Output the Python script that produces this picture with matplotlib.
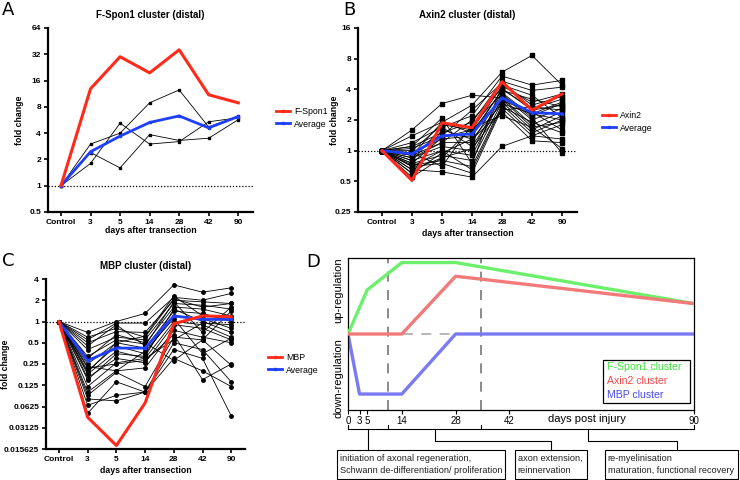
import numpy as np
import matplotlib
matplotlib.use("Agg")
import matplotlib.pyplot as plt
from matplotlib.patches import Rectangle
from matplotlib.lines import Line2D

plt.rcParams['font.family'] = ['Liberation Sans', 'DejaVu Sans']

W, H = 740, 480

# ---- data -------------------------------------------------------------
days = ['Control', '3', '5', '14', '28', '42', '90']

# panel A: F-Spon1 cluster
fspon1 = [1, 12.9, 30, 19.6, 36, 11, 8.9]
fspon1_avg = [1, 2.45, 3.7, 5.3, 6.3, 4.6, 6.2]
fspon1_genes = [
    [1, 1.8, 5.2, 3.0, 3.2, 5.4, 6.0],
    [1, 3.0, 4.0, 8.9, 12.5, 4.7, 6.3],
    [1, 2.4, 1.6, 3.85, 3.3, 3.5, 5.7],
]

# panel B: Axin2 cluster
axin2 = [1, 0.51, 1.88, 1.68, 4.75, 2.5, 3.6]
axin2_avg = [1, 0.93, 1.4, 1.46, 3.3, 2.36, 2.3]
axin2_genes = [
    [1, 1.6, 2.9, 3.5, 3.3, 2.3, 2.0],
    [1, 1.4, 1.9, 2.8, 5.9, 8.6, 4.4],
    [1, 1.2, 1.7, 2.2, 5.4, 4.4, 4.9],
    [1, 1.1, 1.5, 1.9, 4.8, 3.9, 4.2],
    [1, 1.0, 1.8, 1.6, 4.3, 3.0, 3.6],
    [1, 0.95, 1.3, 1.4, 4.0, 2.6, 3.2],
    [1, 0.9, 1.2, 1.2, 3.7, 2.2, 2.9],
    [1, 0.85, 1.1, 1.0, 3.5, 2.0, 2.6],
    [1, 0.8, 1.0, 0.9, 3.3, 1.8, 2.4],
    [1, 0.75, 0.9, 0.8, 3.0, 1.6, 2.2],
    [1, 0.72, 0.8, 0.7, 2.8, 1.5, 2.0],
    [1, 0.7, 0.75, 0.6, 2.6, 1.4, 1.8],
    [1, 0.65, 0.62, 0.55, 1.1, 1.4, 1.3],
    [1, 0.6, 1.6, 1.3, 2.4, 1.25, 1.2],
    [1, 0.55, 0.85, 1.7, 2.2, 1.7, 1.05],
    [1, 0.9, 1.9, 1.5, 3.9, 3.2, 2.7],
    [1, 1.05, 1.4, 2.5, 4.6, 2.8, 3.4],
    [1, 0.8, 1.7, 1.1, 3.1, 2.4, 1.6],
    [1, 0.7, 1.0, 0.65, 2.7, 1.9, 1.5],
    [1, 0.95, 0.7, 1.8, 3.6, 2.1, 0.95],
    [1, 0.85, 1.2, 2.0, 4.1, 2.5, 2.8],
    [1, 0.6, 0.95, 1.3, 2.9, 2.3, 3.0],
    [1, 1.1, 2.1, 0.75, 4.4, 3.5, 2.1],
    [1, 0.75, 1.35, 1.6, 3.2, 1.7, 1.9],
    [1, 0.65, 0.85, 1.05, 2.5, 2.7, 2.5],
]

# panel C: MBP cluster
mbp = [1, 0.044, 0.0175, 0.07, 0.93, 1.2, 1.17]
mbp_avg = [1, 0.28, 0.42, 0.42, 1.2, 1.07, 1.07]
mbp_genes = [
    [1, 0.7, 1.0, 1.3, 3.3, 2.6, 3.0],
    [1, 0.55, 0.95, 0.95, 2.2, 2.0, 2.5],
    [1, 0.5, 0.72, 0.7, 2.0, 1.9, 1.8],
    [1, 0.4, 0.6, 0.55, 1.8, 1.7, 1.5],
    [1, 0.32, 0.55, 0.48, 1.6, 1.5, 1.2],
    [1, 0.25, 0.5, 0.42, 1.4, 1.3, 1.0],
    [1, 0.2, 0.45, 0.35, 1.2, 1.1, 0.8],
    [1, 0.18, 0.38, 0.3, 1.0, 0.9, 0.6],
    [1, 0.16, 0.3, 0.26, 0.9, 0.8, 0.55],
    [1, 0.1, 0.2, 0.22, 0.75, 0.6, 0.5],
    [1, 0.09, 0.19, 0.12, 0.6, 0.55, 0.24],
    [1, 0.065, 0.09, 0.1, 0.5, 0.4, 0.14],
    [1, 0.05, 0.14, 0.1, 0.4, 0.3, 0.046],
    [1, 0.08, 0.075, 0.1, 0.3, 0.2, 0.12],
    [1, 0.22, 0.25, 0.28, 0.65, 0.15, 0.25],
    [1, 0.6, 0.8, 0.6, 2.1, 1.6, 1.8],
    [1, 0.45, 0.9, 0.45, 1.9, 0.7, 1.6],
    [1, 0.3, 0.65, 0.5, 0.28, 0.55, 1.4],
    [1, 0.15, 0.35, 0.32, 1.5, 1.0, 0.7],
    [1, 0.19, 0.5, 0.62, 2.3, 1.2, 1.1],
    [1, 0.23, 0.2, 0.38, 1.1, 0.35, 0.58],
    [1, 0.12, 0.26, 0.3, 0.55, 0.95, 0.9],
]

# panel D: schematic
d_ticks = [0, 3, 5, 14, 28, 42, 90]
green_days = [0, 5, 14, 28, 90]
green_vals = [0.5, 0.79, 0.97, 0.97, 0.70]
red_days = [0, 14, 28, 90]
red_vals = [0.5, 0.5, 0.88, 0.70]
blue_days = [0, 3, 14, 28, 90]
blue_vals = [0.5, 0.105, 0.105, 0.5, 0.5]
phase_bounds = [10.4, 34.6]
phase_text = ['initiation of axonal regeneration,\nSchwann de-differentiation/ proliferation',
              'axon extension,\nreinnervation',
              're-myelinisation\nmaturation, functional recovery']

RED = '#ff2a1a'
BLUE = '#1f3fff'


def px_axes(fig, x0, y0, x1, y1):
    return fig.add_axes([x0 / W, 1 - y1 / H, (x1 - x0) / W, (y1 - y0) / H])


def cluster_panel(ax, genes, red, avg, yticks, yticklabels, xlim, title,
                  ylab_x, xlab_y, ms=2.5):
    x = np.arange(len(days))
    for g in genes:
        ax.plot(x, g, color='k', lw=0.6, marker='s', ms=ms, zorder=2)
    ax.plot(x, avg, color=BLUE, lw=2.0, marker='s', ms=2, zorder=3)
    ax.plot(x, red, color=RED, lw=2.2, zorder=4)
    ax.axhline(1, color='k', ls=(0, (1, 1.5)), lw=0.9, zorder=1)
    ax.set_yscale('log', base=2)
    ax.set_ylim(yticks[0], yticks[-1])
    ax.set_yticks(yticks)
    ax.set_yticklabels(yticklabels)
    ax.minorticks_off()
    ax.set_xlim(*xlim)
    ax.set_xticks(x)
    ax.set_xticklabels(days)
    for s in ['top', 'right']:
        ax.spines[s].set_visible(False)
    for s in ['left', 'bottom']:
        ax.spines[s].set_linewidth(1.6)
    ax.tick_params(width=1.2, length=3, labelsize=6, pad=2)
    for lab in ax.get_xticklabels() + ax.get_yticklabels():
        lab.set_fontweight('bold')
    ax.set_title(title, fontsize=7, fontweight='bold', pad=7)
    ax.set_xlabel('days after transection', fontsize=6.3, fontweight='bold')
    ax.set_ylabel('fold change', fontsize=6.3, fontweight='bold')
    ax.yaxis.set_label_coords(ylab_x, 0.5)
    ax.xaxis.set_label_coords(0.5, xlab_y)
    ax.patch.set_alpha(0)


def add_legend(fig, name, x, y):
    h = [Line2D([], [], color=RED, lw=2.0, marker='s', ms=1.5),
         Line2D([], [], color=BLUE, lw=2.0, marker='s', ms=1.5)]
    fig.legend(h, [name, 'Average'], loc='center left', bbox_to_anchor=(x / W, 1 - y / H),
               frameon=False, fontsize=6.3, handlelength=1.6, handletextpad=0.5,
               labelspacing=0.35, borderaxespad=0)


fig = plt.figure(figsize=(W / 100, H / 100), dpi=100)

# A
axA = px_axes(fig, 48, 28, 253, 212)
cluster_panel(axA, fspon1_genes, fspon1, fspon1_avg,
              [0.5, 1, 2, 4, 8, 16, 32, 64], ['0.5', '1', '2', '4', '8', '16', '32', '64'],
              (-0.44, 6.5), 'F-Spon1 cluster (distal)', -0.115, -0.078, ms=2)
add_legend(fig, 'F-Spon1', 272, 118)

# B
axB = px_axes(fig, 358, 28, 577, 212)
cluster_panel(axB, axin2_genes, axin2, axin2_avg,
              [0.25, 0.5, 1, 2, 4, 8, 16], ['0.25', '0.5', '1', '2', '4', '8', '16'],
              (-0.8, 6.5), 'Axin2 cluster (distal)', -0.085, -0.095)
add_legend(fig, 'Axin2', 598, 122)

# C
axC = px_axes(fig, 46, 279, 245, 449)
cluster_panel(axC, mbp_genes, mbp, mbp_avg,
              [0.015625, 0.03125, 0.0625, 0.125, 0.25, 0.5, 1, 2, 4],
              ['0.015625', '0.03125', '0.0625', '0.125', '0.25', '0.5', '1', '2', '4'],
              (-0.45, 6.48), 'MBP cluster (distal)', -0.18, -0.1)
for ln in axC.lines[:len(mbp_genes)]:
    ln.set_marker('o')
add_legend(fig, 'MBP', 264, 364)

# D
axD = px_axes(fig, 348, 258, 694, 410)
axD.set_xlim(0, 90)
axD.set_ylim(0, 1)
axD.plot([0, 90], [0.5, 0.5], color='#aaaaaa', lw=1.2, ls=(0, (6, 5)), zorder=1)
for b in phase_bounds:
    axD.axvline(b, color='#777777', lw=1.2, ls=(0, (6, 5)), zorder=1)
axD.plot(green_days, green_vals, color='#6cf06c', lw=2.4, solid_capstyle='butt', zorder=3)
axD.plot(red_days, red_vals, color='#f27a7a', lw=2.4, solid_capstyle='butt', zorder=3)
axD.plot(blue_days, blue_vals, color='#7a7af2', lw=2.4, solid_capstyle='butt', zorder=2)
axD.set_xticks(d_ticks)
axD.set_xticklabels([str(d) for d in d_ticks])
axD.set_yticks([])
axD.tick_params(axis='x', length=3, width=0.8, labelsize=7, pad=1.5)
for s in axD.spines.values():
    s.set_linewidth(0.9)
axD.text(0.69, -0.028, 'days post injury', transform=axD.transAxes, fontsize=8,
         ha='center', va='top')
axD.text(-0.028, 0.79, 'up-regulation', transform=axD.transAxes, rotation=90,
         fontsize=8, ha='center', va='center')
axD.text(-0.028, 0.21, 'down-regulation', transform=axD.transAxes, rotation=90,
         fontsize=8, ha='center', va='center')
leg_colors = ['#3ee03e', '#f04848', '#4848f0']
leg_names = ['F-Spon1 cluster', 'Axin2 cluster', 'MBP cluster']
axD.add_patch(Rectangle((0.737, 0.045), 0.252, 0.285, transform=axD.transAxes,
                        fill=False, lw=0.9, ec='k', zorder=5))
for i, (n, c) in enumerate(zip(leg_names, leg_colors)):
    axD.text(0.748, 0.28 - i * 0.09, n, color=c, fontsize=7.6, transform=axD.transAxes,
             va='center', zorder=6)

# phase brackets and boxes (pixel overlay)
ov = fig.add_axes([0, 0, 1, 1])
ov.set_xlim(0, W)
ov.set_ylim(H, 0)
ov.axis('off')


def dx(d):
    return 348 + d * 346 / 90


edges = [0] + phase_bounds + [90]
ov.plot([dx(0), dx(90)], [429, 429], color='k', lw=0.8)
for e in edges:
    ov.plot([dx(e), dx(e)], [425, 429], color='k', lw=0.8)
boxes = [(337, 505), (515, 587), (605, 738)]
mids = [dx((edges[i] + edges[i + 1]) / 2) for i in range(3)]
ov.plot([mids[0], mids[0]], [429, 450], color='k', lw=0.8)
ov.plot([mids[1], mids[1], 551, 551], [429, 441, 441, 450], color='k', lw=0.8)
ov.plot([mids[2], mids[2], 677, 677], [429, 441, 441, 450], color='k', lw=0.8)
for (b0, b1), t in zip(boxes, phase_text):
    ov.add_patch(Rectangle((b0, 450), b1 - b0, 29, fill=False, lw=0.8, ec='k'))
    ov.text(b0 + 2.5, 464.5, t, fontsize=6.6, va='center', ha='left', color='#222222',
            linespacing=1.35)

# panel letters
for lab, x, y in [('A', 2, 1), ('B', 343, 1), ('C', 2, 252), ('D', 306, 253)]:
    ov.text(x, y, lab, fontsize=13, va='top', ha='left', family='DejaVu Sans')

fig.savefig('out.png', dpi=100)
